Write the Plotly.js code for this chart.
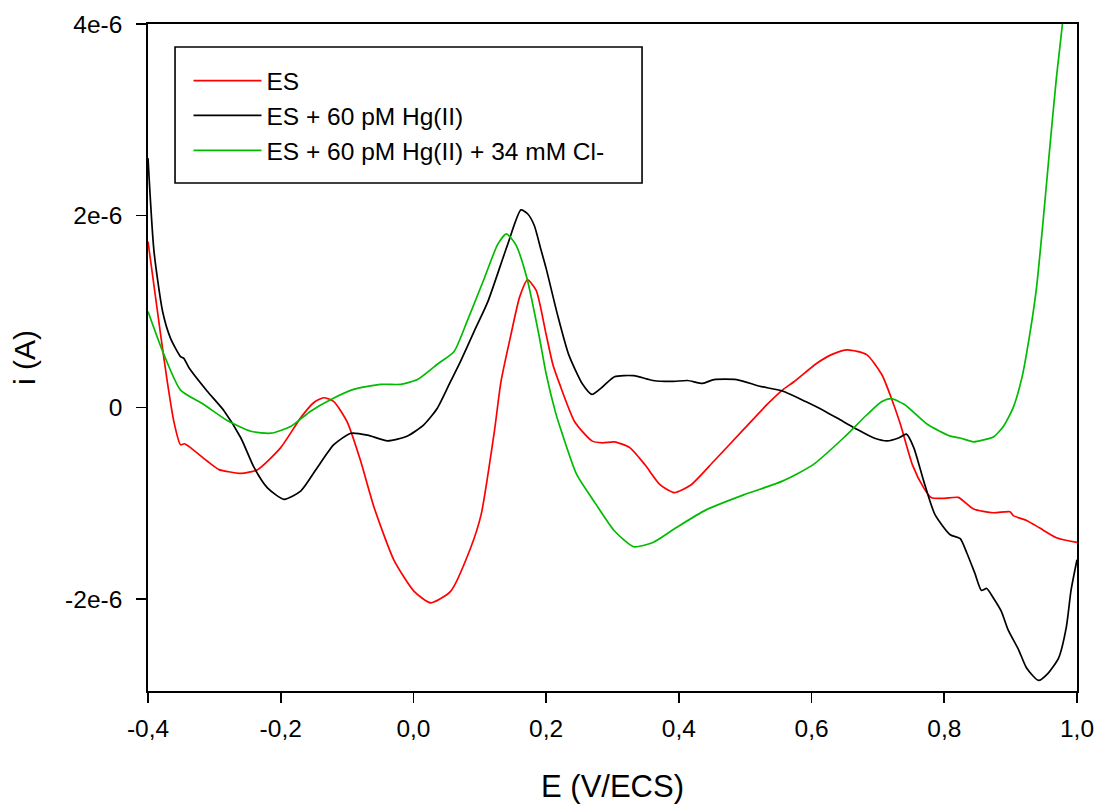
<!DOCTYPE html>
<html>
<head>
<meta charset="utf-8">
<script src="https://cdn.plot.ly/plotly-3.0.1.min.js"></script>
<style>html,body{margin:0;padding:0;background:#fff;}#chart{width:1099px;height:804px;}</style>
</head>
<body>
<div id="chart"></div>
<script>
// Series names
const seriesNames = ["ES", "ES + 60 pM Hg(II)", "ES + 60 pM Hg(II) + 34 mM Cl-"];

// ES (red): potential (V/ECS) and current (µA)
const esE = [-0.400,-0.381,-0.371,-0.361,-0.351,-0.345,-0.338,-0.311,-0.293,-0.280,-0.260,-0.235,-0.200,-0.170,-0.150,-0.135,-0.120,-0.100,-0.080,-0.059,-0.029,0.001,0.026,0.056,0.086,0.102,0.122,0.132,0.147,0.160,0.172,0.185,0.200,0.210,0.220,0.243,0.269,0.285,0.303,0.326,0.349,0.372,0.393,0.418,0.453,0.499,0.533,0.556,0.574,0.608,0.630,0.654,0.683,0.706,0.720,0.734,0.752,0.769,0.780,0.800,0.821,0.844,0.874,0.899,0.904,0.924,0.944,0.969,1.000];
const esI = [1.73,0.76,0.27,-0.15,-0.39,-0.38,-0.41,-0.56,-0.65,-0.67,-0.69,-0.65,-0.42,-0.11,0.05,0.10,0.06,-0.15,-0.55,-1.05,-1.60,-1.92,-2.04,-1.92,-1.47,-1.12,-0.25,0.27,0.76,1.15,1.33,1.22,0.76,0.45,0.25,-0.15,-0.35,-0.37,-0.36,-0.42,-0.60,-0.81,-0.89,-0.81,-0.56,-0.22,0.03,0.18,0.27,0.46,0.55,0.60,0.55,0.34,0.10,-0.18,-0.60,-0.84,-0.94,-0.95,-0.94,-1.06,-1.10,-1.09,-1.13,-1.18,-1.26,-1.36,-1.41];

// ES + 60 pM Hg(II) (black)
const hgE = [-0.400,-0.391,-0.378,-0.366,-0.351,-0.346,-0.338,-0.311,-0.285,-0.260,-0.240,-0.220,-0.195,-0.170,-0.145,-0.120,-0.094,-0.069,-0.039,-0.009,0.016,0.036,0.056,0.071,0.092,0.112,0.142,0.162,0.172,0.182,0.192,0.200,0.217,0.234,0.255,0.269,0.286,0.303,0.332,0.361,0.390,0.413,0.436,0.453,0.487,0.522,0.556,0.591,0.620,0.643,0.666,0.694,0.714,0.731,0.743,0.754,0.769,0.786,0.809,0.824,0.834,0.846,0.856,0.864,0.874,0.886,0.896,0.912,0.924,0.942,0.957,0.972,0.984,0.991,1.000];
const hgI = [2.60,1.63,1.00,0.72,0.53,0.51,0.41,0.17,-0.04,-0.32,-0.63,-0.84,-0.96,-0.875,-0.63,-0.39,-0.27,-0.29,-0.35,-0.30,-0.18,-0.01,0.27,0.48,0.80,1.10,1.70,2.06,2.02,1.90,1.65,1.45,0.97,0.55,0.24,0.135,0.22,0.32,0.33,0.28,0.27,0.28,0.25,0.29,0.29,0.22,0.17,0.06,-0.04,-0.13,-0.22,-0.32,-0.35,-0.32,-0.28,-0.42,-0.77,-1.12,-1.33,-1.37,-1.52,-1.73,-1.91,-1.89,-1.99,-2.13,-2.32,-2.53,-2.72,-2.85,-2.77,-2.62,-2.29,-1.91,-1.59];

// ES + 60 pM Hg(II) + 34 mM Cl- (green)
const clE = [-0.400,-0.376,-0.351,-0.316,-0.280,-0.245,-0.215,-0.185,-0.155,-0.125,-0.089,-0.049,-0.019,0.006,0.036,0.061,0.081,0.107,0.127,0.140,0.154,0.171,0.189,0.200,0.214,0.223,0.246,0.275,0.303,0.332,0.361,0.395,0.441,0.499,0.556,0.602,0.648,0.683,0.706,0.720,0.740,0.775,0.809,0.824,0.844,0.859,0.874,0.889,0.904,0.917,0.929,0.939,0.949,0.959,0.969,0.978,0.990];
const clI = [1.00,0.55,0.18,0.03,-0.14,-0.25,-0.27,-0.20,-0.04,0.08,0.19,0.24,0.24,0.29,0.45,0.58,0.90,1.35,1.70,1.81,1.70,1.35,0.76,0.35,-0.05,-0.25,-0.70,-1.01,-1.29,-1.455,-1.41,-1.26,-1.07,-0.91,-0.77,-0.60,-0.32,-0.08,0.06,0.09,0.03,-0.18,-0.30,-0.32,-0.36,-0.34,-0.31,-0.20,0.00,0.31,0.77,1.25,1.95,2.71,3.44,4.00,5.00];

// Tick labels
const yTickVals = [-2e-6, 0, 2e-6, 4e-6];
const yTickText = ["-2e-6", "0", "2e-6", "4e-6"];
const xTickVals = [-0.4,-0.2,0.0,0.2,0.4,0.6,0.8,1.0];
const xTickText = ["-0,4","-0,2","0,0","0,2","0,4","0,6","0,8","1,0"];

const toA = arr => arr.map(v => v * 1e-6);
const FONT = "Arial, 'Liberation Sans', sans-serif";

const lineStyle = c => ({color: c, width: 1.7, shape: "spline", smoothing: 0.6});
const traces = [
  {x: esE, y: toA(esI), name: seriesNames[0], mode: "lines", line: lineStyle("#ff0000")},
  {x: hgE, y: toA(hgI), name: seriesNames[1], mode: "lines", line: lineStyle("#000000")},
  {x: clE, y: toA(clI), name: seriesNames[2], mode: "lines", line: lineStyle("#00bb00")}
];

const layout = {
  width: 1099, height: 804,
  margin: {l: 148, r: 22, t: 24, b: 113},
  paper_bgcolor: "#ffffff", plot_bgcolor: "#ffffff",
  font: {family: FONT, size: 24.5, color: "#000"},
  showlegend: true,
  legend: {
    x: 0.0436, y: 0.9488, xanchor: "left", yanchor: "top",
    borderwidth: 0, bgcolor: "rgba(0,0,0,0)",
    font: {family: FONT, size: 24.5, color: "#000"},
    itemwidth: 68, tracegroupgap: 0
  },
  shapes: [
    {type: "rect", xref: "paper", yref: "paper", x0: 0.0291, x1: 0.5318, y0: 0.7616, y1: 0.9655,
     line: {color: "#000", width: 1.6}, fillcolor: "rgba(0,0,0,0)", layer: "above"}
  ],
  xaxis: {
    range: [-0.4, 1.0], tickvals: xTickVals, ticktext: xTickText,
    ticks: "outside", ticklen: 10, tickwidth: 1.6, tickcolor: "#000", ticklabelstandoff: 5,
    showline: true, linecolor: "#000", linewidth: 1.8, mirror: true,
    showgrid: false, zeroline: false,
    tickfont: {family: FONT, size: 24.5, color: "#000"},
    title: {text: "E (V/ECS)", font: {family: FONT, size: 31, color: "#000"}, standoff: 36}
  },
  yaxis: {
    range: [-2.96e-6, 4e-6], tickvals: yTickVals, ticktext: yTickText,
    ticks: "outside", ticklen: 10, tickwidth: 1.6, tickcolor: "#000", ticklabelstandoff: 9,
    showline: true, linecolor: "#000", linewidth: 1.8, mirror: true,
    showgrid: false, zeroline: false,
    tickfont: {family: FONT, size: 24.5, color: "#000"},
    title: {text: "i (A)", font: {family: FONT, size: 30, color: "#000"}, standoff: 20}
  }
};

Plotly.newPlot("chart", traces, layout, {displayModeBar: false, staticPlot: true});
</script>
</body>
</html>
